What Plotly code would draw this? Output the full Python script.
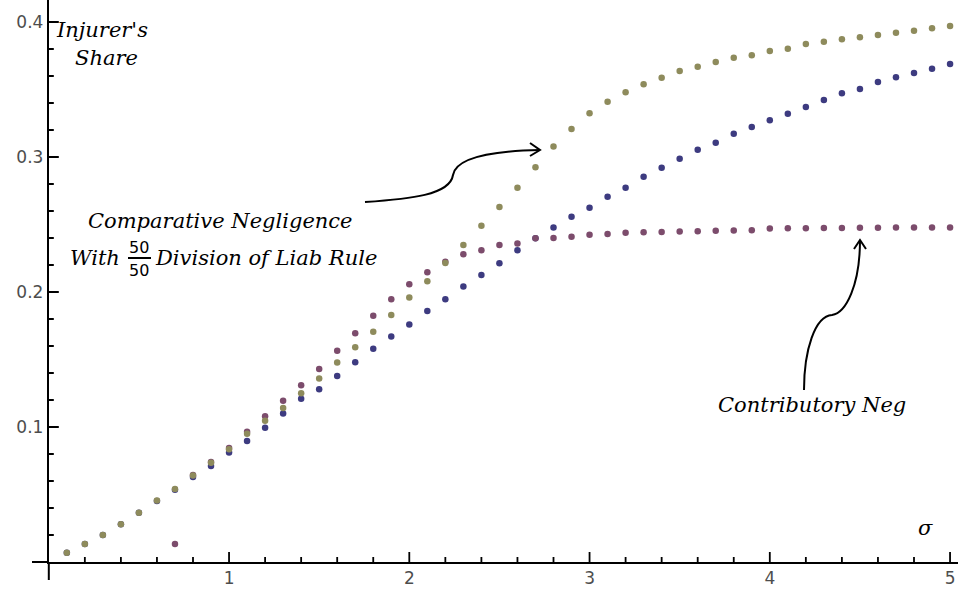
import plotly.graph_objects as go

W, H = 958, 592

# ---------------- data ----------------
sigma = [0.1, 0.2, 0.3, 0.4, 0.5, 0.6, 0.7, 0.8, 0.9, 1.0,
         1.1, 1.2, 1.3, 1.4, 1.5, 1.6, 1.7, 1.8, 1.9, 2.0,
         2.1, 2.2, 2.3, 2.4, 2.5, 2.6, 2.7, 2.8, 2.9, 3.0,
         3.1, 3.2, 3.3, 3.4, 3.5, 3.6, 3.7, 3.8, 3.9, 4.0,
         4.1, 4.2, 4.3, 4.4, 4.5, 4.6, 4.7, 4.8, 4.9, 5.0]

share_blue = [0.0069, 0.0133, 0.0200, 0.0280, 0.0365, 0.0452, 0.0535, 0.0630, 0.0712, 0.0812,
              0.0896, 0.0995, 0.1100, 0.1210, 0.1280, 0.1378, 0.1480, 0.1580, 0.1670, 0.1760,
              0.1860, 0.1946, 0.2040, 0.2126, 0.2213, 0.2310, 0.2398, 0.2477, 0.2558, 0.2625,
              0.2706, 0.2773, 0.2854, 0.2921, 0.2987, 0.3054, 0.3106, 0.3173, 0.3222, 0.3272,
              0.3321, 0.3370, 0.3422, 0.3472, 0.3504, 0.3556, 0.3590, 0.3622, 0.3654, 0.3689]

share_contributory = [None, None, None, None, None, None, 0.0133, 0.0645, 0.0740, 0.0845,
                      0.0965, 0.1080, 0.1195, 0.1310, 0.1430, 0.1565, 0.1694, 0.1825, 0.1946, 0.2057,
                      0.2146, 0.2225, 0.2280, 0.2310, 0.2348, 0.2360, 0.2398, 0.2400, 0.2410, 0.2425,
                      0.2430, 0.2438, 0.2442, 0.2445, 0.2448, 0.2450, 0.2453, 0.2455, 0.2458, 0.2470,
                      0.2472, 0.2473, 0.2474, 0.2475, 0.2476, 0.2476, 0.2477, 0.2477, 0.2478, 0.2478]

share_comparative_5050 = [0.0069, 0.0133, 0.0200, 0.0280, 0.0365, 0.0456, 0.0540, 0.0640, 0.0735, 0.0835,
                          0.0950, 0.1047, 0.1140, 0.1250, 0.1360, 0.1477, 0.1590, 0.1706, 0.1830, 0.1960,
                          0.2080, 0.2215, 0.2348, 0.2490, 0.2630, 0.2773, 0.2924, 0.3077, 0.3207, 0.3324,
                          0.3410, 0.3480, 0.3538, 0.3587, 0.3637, 0.3669, 0.3704, 0.3736, 0.3753, 0.3785,
                          0.3802, 0.3837, 0.3854, 0.3872, 0.3887, 0.3904, 0.3921, 0.3936, 0.3953, 0.3970]

x_tick_vals = [1, 2, 3, 4, 5]
x_tick_text = ["1", "2", "3", "4", "5"]
y_tick_vals = [0.1, 0.2, 0.3, 0.4]
y_tick_text = ["0.1", "0.2", "0.3", "0.4"]

# ---------------- layout helpers ----------------
def P(px, py):
    return px / W, 1 - py / H

def path(cmds):
    out = []
    for c in cmds:
        if isinstance(c, str):
            out.append(c)
        else:
            x, y = P(*c)
            out.append(f"{x:.5f},{y:.5f}")
    return " ".join(out)

fig = go.Figure()
for vals, col in [(share_blue, "#3d3b80"),
                  (share_contributory, "#7c4c6c"),
                  (share_comparative_5050, "#8e8b5c")]:
    fig.add_trace(go.Scatter(x=sigma, y=vals, mode="markers",
                             marker=dict(size=6.5, color=col, line=dict(width=0)),
                             hoverinfo="skip", cliponaxis=False))

# axis geometry (pixel space of reference): origin at (48.8, 562)
x0px, xscale = 48.8, 180.25
y0px, yscale = 562.0, 1350.0
xdom = [x0px / W, 1.0]
ydom = [(H - y0px) / H, 1.0]
xr = [0, (W - x0px) / xscale]
yr = [0, y0px / yscale]

tickfont = dict(family="DejaVu Sans", size=17, color="#4d4d4d")
fig.update_layout(
    width=W, height=H, autosize=False,
    margin=dict(l=0, r=0, t=0, b=0, pad=0),
    paper_bgcolor="white", plot_bgcolor="white",
    showlegend=False,
    xaxis=dict(domain=xdom, range=xr, anchor="y",
               showgrid=False, zeroline=False, showline=True, linecolor="black", linewidth=2,
               ticks="", tickmode="array", tickvals=x_tick_vals, ticktext=x_tick_text,
               tickfont=tickfont),
    yaxis=dict(domain=ydom, range=yr, anchor="x",
               showgrid=False, zeroline=False, showline=True, linecolor="black", linewidth=2,
               ticks="", tickmode="array", tickvals=y_tick_vals, ticktext=y_tick_text,
               tickfont=tickfont),
)

# tick marks (major + minor) pointing into the plot, placed with the axis scale
x_minor = [i / 5 for i in range(1, 26) if i % 5]
y_minor = [i / 50 for i in range(1, 21) if i % 5]
xt_cmds, yt_cmds = [], []
for v, ln in [(v, 10) for v in x_tick_vals] + [(v, 5) for v in x_minor]:
    px = x0px + xscale * v
    xt_cmds += ["M", (px, y0px), "L", (px, y0px - ln)]
for v, ln in [(v, 10) for v in y_tick_vals] + [(v, 5) for v in y_minor]:
    py = y0px - yscale * v
    yt_cmds += ["M", (x0px, py), "L", (x0px + ln, py)]
tick = dict(color="black", width=1.8)
fig.add_shape(type="path", xref="paper", yref="paper", path=path(xt_cmds), line=tick)
fig.add_shape(type="path", xref="paper", yref="paper", path=path(yt_cmds), line=tick)

line = dict(color="black", width=2)
axline = dict(color="black", width=2)
# axis stubs extending past the origin
fig.add_shape(type="path", xref="paper", yref="paper",
              path=path(["M", (32, y0px), "L", (x0px, y0px)]), line=axline)
fig.add_shape(type="path", xref="paper", yref="paper",
              path=path(["M", (x0px, y0px), "L", (x0px, 580)]), line=axline)

tf = dict(family="DejaVu Serif", size=21, color="black")

def label(text, px, py, xanchor="center", font=tf):
    x, y = P(px, py)
    fig.add_annotation(x=x, y=y, xref="paper", yref="paper", text=text, showarrow=False,
                       xanchor=xanchor, yanchor="middle", font=font)

label("<i>Injurer's</i>", 102, 30)
label("<i>Share</i>", 106, 58)
label("<i>σ</i>", 925, 528)
label("<i>Contributory Neg</i>", 812, 405)
label("<i>Comparative Negligence</i>", 355, 221, xanchor="right")
label("<i>With</i>", 122, 258, xanchor="right")
fracfont = dict(family="DejaVu Sans", size=16, color="black")
label("50", 139, 248, font=fracfont)
label("50", 139, 270, font=fracfont)
label("<i>Division of Liab Rule</i>", 153, 258, xanchor="left")

# fraction bar
fig.add_shape(type="path", xref="paper", yref="paper",
              path=path(["M", (128, 258), "L", (151, 258)]), line=line)
# arrow to 50/50 comparative series
fig.add_shape(type="path", xref="paper", yref="paper",
              path=path(["M", (365, 202), "C", (410, 199), (450, 195), (453, 175),
                         "C", (456, 158), (490, 151), (540, 150)]), line=line)
fig.add_shape(type="path", xref="paper", yref="paper",
              path=path(["M", (530, 143), "L", (540, 150), "L", (530, 156)]), line=line)
# arrow to contributory series
fig.add_shape(type="path", xref="paper", yref="paper",
              path=path(["M", (804, 390), "C", (804, 350), (815, 316), (832, 315),
                         "C", (846, 313), (860, 285), (860, 240)]), line=line)
fig.add_shape(type="path", xref="paper", yref="paper",
              path=path(["M", (854, 249), "L", (860, 240), "L", (866, 249)]), line=line)

fig.write_html("out.html")
